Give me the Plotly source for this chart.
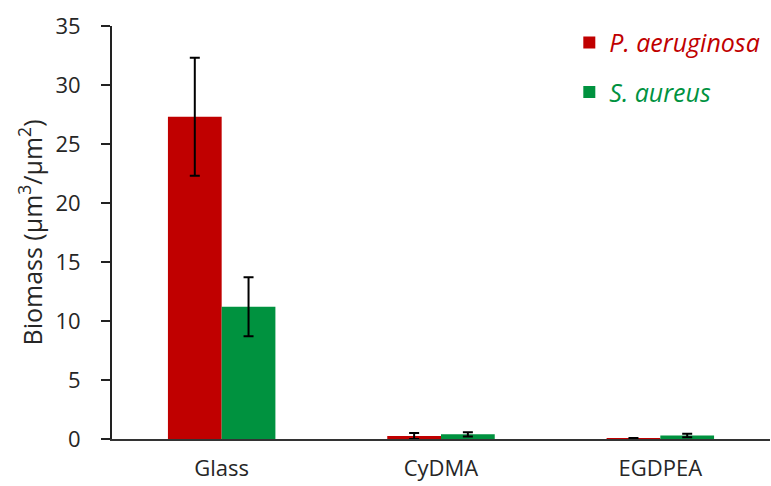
import plotly.graph_objects as go

categories = ["Glass", "CyDMA", "EGDPEA"]
pa_values = [27.3, 0.25, 0.03]
pa_errors = [5.0, 0.25, 0.05]
sa_values = [11.2, 0.4, 0.3]
sa_errors = [2.5, 0.18, 0.15]
y_ticks = [0, 5, 10, 15, 20, 25, 30, 35]

RED = "#C00000"
GREEN = "#00923F"
FONT = "Open Sans"
TXT = "#262626"

fig = go.Figure()
fig.add_trace(go.Bar(
    x=categories, y=pa_values, legendgroup="pa",
    name=f"<i><span style='color:{RED}'>P. aeruginosa</span></i>",
    marker=dict(color=RED, line=dict(width=0)),
    error_y=dict(type="data", array=pa_errors, color="black", thickness=2, width=5),
))
fig.add_trace(go.Bar(
    x=categories, y=sa_values, legendgroup="sa",
    name=f"<i><span style='color:{GREEN}'>S. aureus</span></i>",
    marker=dict(color=GREEN, line=dict(width=0)),
    error_y=dict(type="data", array=sa_errors, color="black", thickness=2, width=5),
))

fig.update_layout(
    width=771, height=486,
    margin=dict(l=112, r=1, t=26, b=47, autoexpand=False),
    paper_bgcolor="white", plot_bgcolor="white",
    barmode="group", bargap=0.51, bargroupgap=0,
    font=dict(family=FONT, size=22, color=TXT),
    showlegend=True,
    legend=dict(
        x=0.695, y=1.015, xanchor="left", yanchor="top",
        bgcolor="rgba(0,0,0,0)", font=dict(family=FONT, size=25),
        tracegroupgap=14, itemwidth=30,
    ),
    xaxis=dict(
        showline=True, linecolor="#333333", linewidth=2,
        ticks="", ticklabelstandoff=9, automargin=False,
        tickfont=dict(family=FONT, size=22, color=TXT),
        showgrid=False,
    ),
    yaxis=dict(
        range=[0, 35], tickvals=y_ticks, automargin=False,
        showline=True, linecolor="#222222", linewidth=2,
        ticks="outside", ticklen=9, tickwidth=2, tickcolor="#222222",
        ticklabelstandoff=16,
        tickfont=dict(family=FONT, size=22, color=TXT),
        showgrid=False, zeroline=False,
        title=dict(text="Biomass (μm<sup>3</sup>/μm<sup>2</sup>)",
                   font=dict(family=FONT, size=25, color=TXT), standoff=6),
    ),
)

fig.write_html("out.html")
